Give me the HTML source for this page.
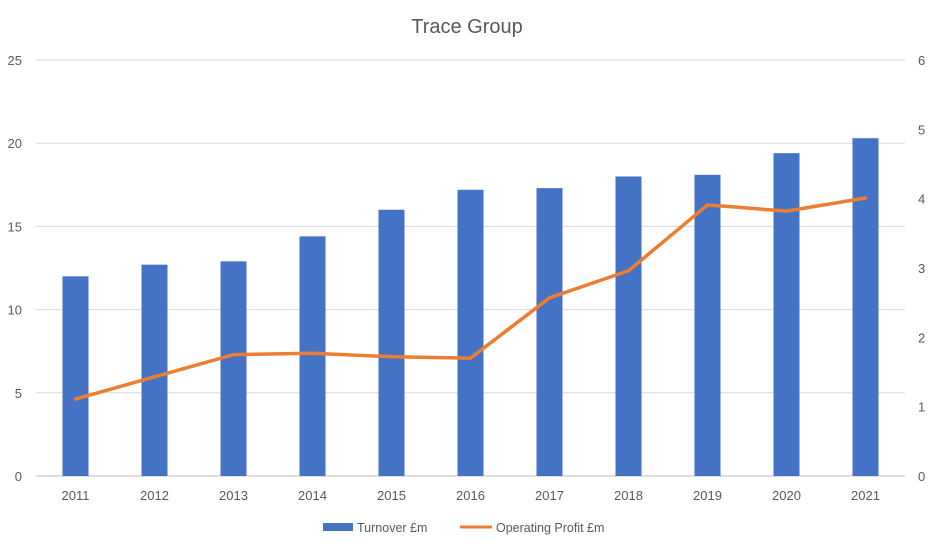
<!DOCTYPE html>
<html><head><meta charset="utf-8"><style>
html,body{margin:0;padding:0;background:#fff;}
svg{display:block;font-family:"Liberation Sans",sans-serif;}
</style></head><body>
<svg id="chart" width="938" height="546" viewBox="0 0 938 546">
<text x="467" y="33" text-anchor="middle" font-size="20" fill="#595959">Trace Group</text>
<g id="grid"></g><g id="bars"></g><g id="line"></g><g id="axes"></g>
<g>
<rect x="323" y="523" width="30" height="8" fill="#4472C4"/>
<text x="357" y="532" font-size="12.5" fill="#595959">Turnover £m</text>
<line x1="460" y1="527" x2="492" y2="527" stroke="#ED7D31" stroke-width="3"/>
<text x="496" y="532" font-size="12.5" fill="#595959">Operating Profit £m</text>
</g>
</svg>
<script>
const categories = ["2011","2012","2013","2014","2015","2016","2017","2018","2019","2020","2021"];
const turnover = [12,12.7,12.9,14.4,16,17.2,17.3,18,18.1,19.4,20.3];
const profit = [1.11,1.43,1.75,1.77,1.72,1.70,2.57,2.96,3.91,3.82,4.01];
const leftTicks = [0,5,10,15,20,25];
const rightTicks = [0,1,2,3,4,5,6];

const NS="http://www.w3.org/2000/svg";
const L=36,R=905,T=60,B=476;
const step=(R-L)/categories.length;
const xC=i=>L+step*(i+0.5);
const yL=v=>B-(B-T)*v/25;
const yR=v=>B-(B-T)*v/6;
function mk(tag,attrs,parent,txt){const e=document.createElementNS(NS,tag);for(const k in attrs)e.setAttribute(k,attrs[k]);if(txt!==undefined)e.textContent=txt;document.getElementById(parent).appendChild(e);return e;}

leftTicks.forEach(v=>{
  const g=mk("line",{x1:L,x2:R,y1:yL(v),y2:yL(v),stroke:v===0?"#bfbfbf":"#d9d9d9","stroke-width":1},"grid");
  
  
  const t=mk("text",{x:22,y:yL(v)+5,"text-anchor":"end","font-size":13,fill:"#595959"},"axes",String(v));
  
  
});
rightTicks.forEach(v=>{
  const t=mk("text",{x:918,y:yR(v)+5,"text-anchor":"start","font-size":13,fill:"#595959"},"axes",String(v));
  
  
});
categories.forEach((c,i)=>{
  const t=mk("text",{x:xC(i),y:500,"text-anchor":"middle","font-size":13,fill:"#595959"},"axes",c);
  
  
  const bw=26;
  const b=mk("rect",{x:xC(i)-bw/2,y:yL(turnover[i]),width:bw,height:B-yL(turnover[i]),fill:"#4472C4"},"bars");
  
  
});
const pts=profit.map((v,i)=>xC(i)+","+yR(v)).join(" ");
const pl=mk("polyline",{points:pts,fill:"none",stroke:"#ED7D31","stroke-width":3.5,"stroke-linejoin":"round","stroke-linecap":"round"},"line");


</script>
</body></html>
